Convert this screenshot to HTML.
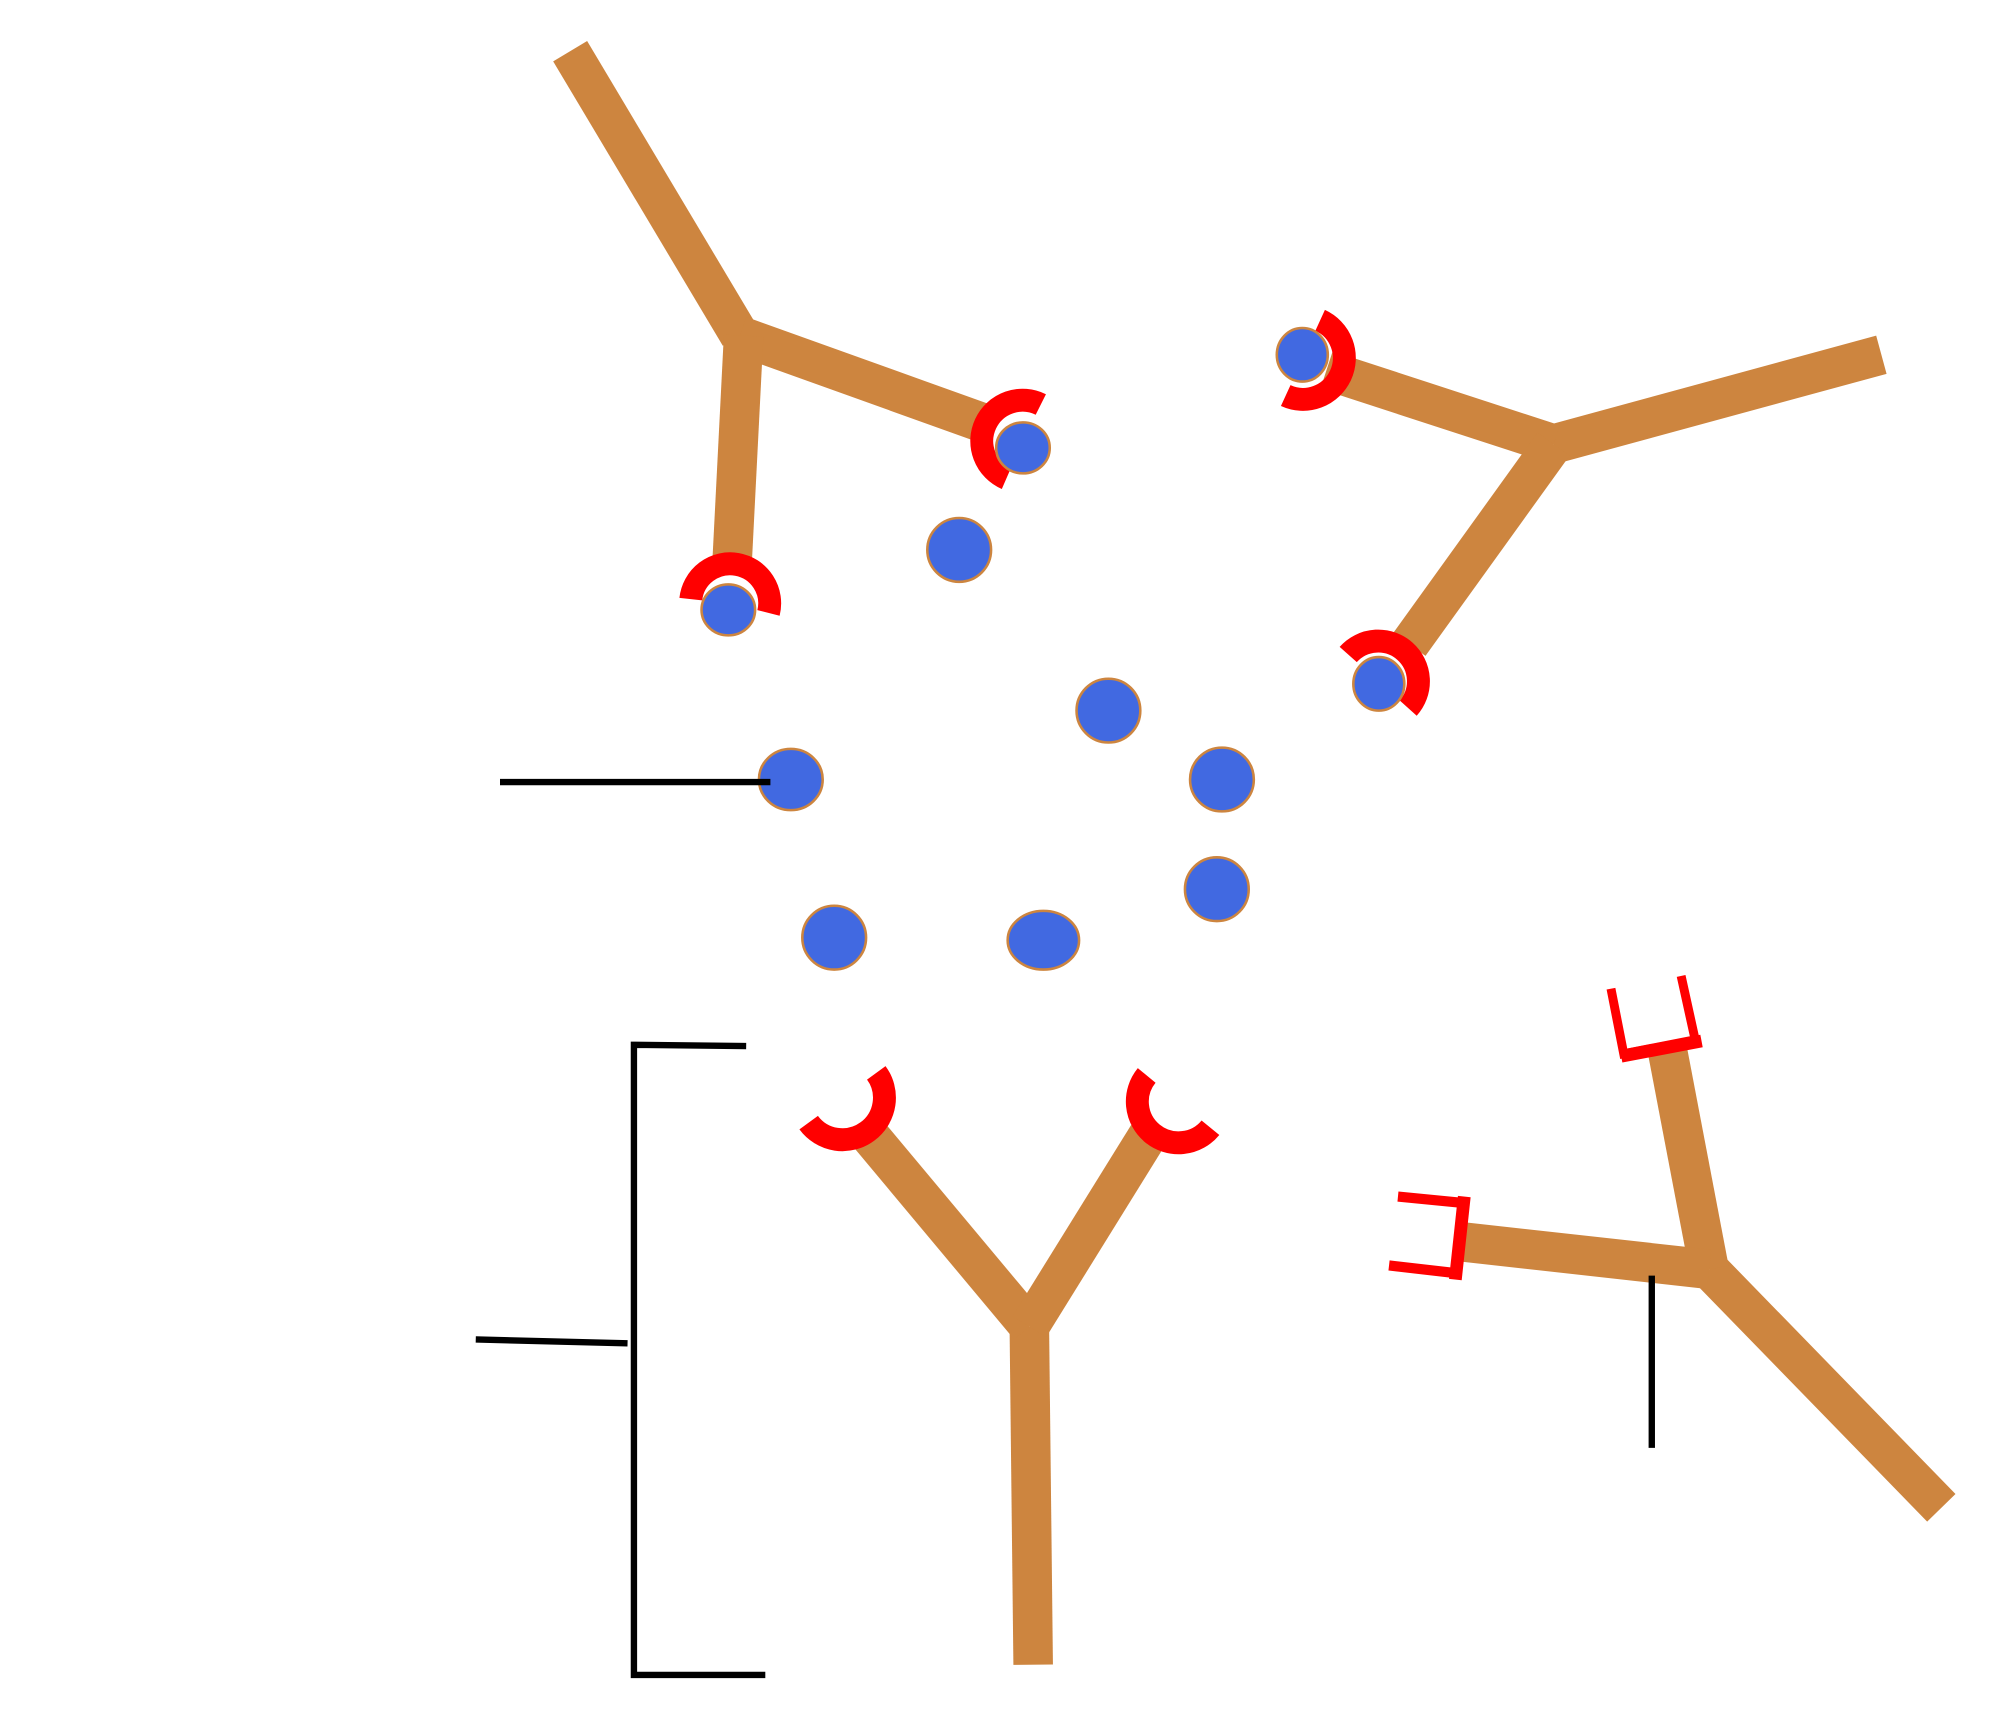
<!DOCTYPE html>
<html><head><meta charset="utf-8"><style>html,body{margin:0;padding:0;background:#fff}svg{display:block}</style></head>
<body>
<svg width="2000" height="1721" viewBox="0 0 1568 1349" xmlns="http://www.w3.org/2000/svg">
<rect width="1568" height="1349" fill="#fff"/>
<g stroke="#cd853f" stroke-width="31" fill="none" stroke-linejoin="miter">
<line x1="447" y1="40" x2="580" y2="263"/>
<line x1="580" y1="263" x2="775" y2="333"/>
<line x1="583" y1="263" x2="574" y2="440"/>
<line x1="1475" y1="278" x2="1218" y2="348"/>
<line x1="1218" y1="348" x2="1040" y2="290"/>
<line x1="1218" y1="348" x2="1105" y2="505"/>
<line x1="810" y1="1305" x2="807" y2="1040"/>
<line x1="807" y1="1040" x2="680" y2="888"/>
<line x1="807" y1="1040" x2="900" y2="890"/>
<line x1="1522" y1="1182" x2="1340" y2="995"/>
<line x1="1340" y1="995" x2="1307" y2="822"/>
<line x1="1340" y1="995" x2="1142" y2="973"/>
</g>
<g stroke="#ff0000" stroke-width="18" fill="none">
<path d="M541.6 469.6 A31 31 0 1 1 602.5 480.4"/>
<path d="M816 317 A32 32 0 1 0 789 375"/>
<path d="M1035 251 A31 31 0 1 1 1008 310"/>
<path d="M1057 513 A31 31 0 1 1 1104 555"/>
<path d="M687 841 A31 31 0 1 1 634 880"/>
<path d="M899 843 A31 31 0 1 0 949 884"/>
</g>
<g stroke="#ff0000" fill="none" stroke-linejoin="miter">
<polyline points="1263,775 1273,826 1329,815 1318,765" stroke-width="7"/>
<line x1="1271" y1="828" x2="1334" y2="816" stroke-width="10"/>
<polyline points="1096,938 1147,943 1141,998 1089,992" stroke-width="8"/>
<line x1="1148" y1="938" x2="1141" y2="1003" stroke-width="10"/>
</g>
<g fill="#4169e1" stroke="#cd853f" stroke-width="2">
<ellipse cx="571" cy="478" rx="21" ry="20"/>
<ellipse cx="802" cy="351" rx="21" ry="20"/>
<ellipse cx="1021" cy="278" rx="20" ry="21"/>
<ellipse cx="1081" cy="536" rx="20" ry="21"/>
<circle cx="752" cy="431" r="25"/>
<circle cx="869" cy="557" r="25"/>
<ellipse cx="620" cy="611" rx="25" ry="24"/>
<circle cx="958" cy="611" r="25"/>
<circle cx="954" cy="697" r="25"/>
<circle cx="654" cy="735" r="25"/>
<ellipse cx="818" cy="737" rx="28" ry="23"/>
</g>
<g stroke="#000" stroke-width="5" fill="none">
<line x1="392" y1="613" x2="604" y2="613"/>
<polyline points="585,820 497,819 497,1313 600,1313"/>
<line x1="373" y1="1050" x2="492" y2="1053"/>
<line x1="1295" y1="1000" x2="1295" y2="1135"/>
</g>
</svg>
</body></html>
